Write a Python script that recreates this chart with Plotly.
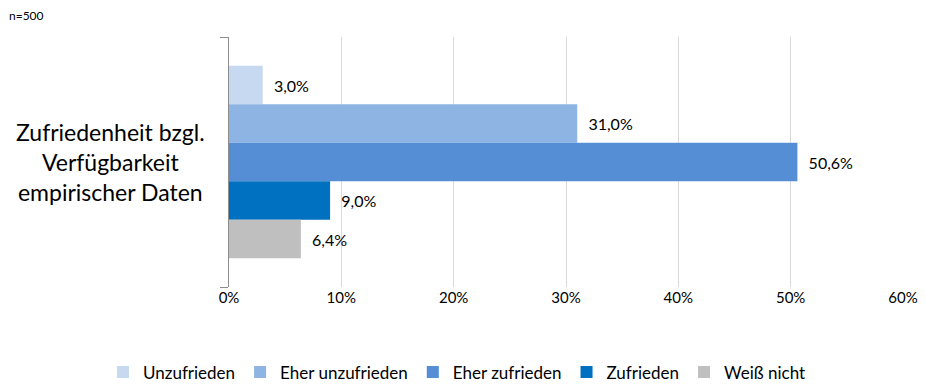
import plotly.graph_objects as go

category = ["Zufriedenheit bzgl.<br>Verfügbarkeit<br>empirischer Daten"]
series = ["Unzufrieden", "Eher unzufrieden", "Eher zufrieden", "Zufrieden", "Weiß nicht"]
values = [3.0, 31.0, 50.6, 9.0, 6.4]
colors = ["#C6D9F1", "#8EB4E3", "#558ED5", "#0070C0", "#BFBFBF"]
x_ticks = [0, 10, 20, 30, 40, 50, 60]
x_tick_labels = [f"{t}%" for t in x_ticks]

FONT = "Lato, Open Sans, sans-serif"

fig = go.Figure()
for name, v, c in zip(series, values, colors):
    fig.add_trace(go.Bar(
        name=name, y=category, x=[v], orientation="h",
        marker=dict(color=c, line=dict(width=0)),
        text=[v], texttemplate="  %{x:.1f}%", textposition="outside",
        textfont=dict(size=16, color="#000000", family=FONT),
        cliponaxis=False,
    ))

fig.update_layout(
    width=926, height=392,
    margin=dict(l=229, r=23, t=37, b=105, autoexpand=False),
    paper_bgcolor="white", plot_bgcolor="white",
    barmode="group", bargap=0.23, bargroupgap=0,
    separators=",.",
    font=dict(family=FONT, color="#000000"),
    showlegend=True,
    legend=dict(orientation="h", x=(103 - 229) / 674, xanchor="left", y=-0.27, yanchor="top",
                yref="paper", font=dict(size=17), traceorder="normal",
                itemwidth=30, tracegroupgap=0),
    xaxis=dict(range=[0, 60], tickmode="array", tickvals=x_ticks, ticktext=x_tick_labels,
               showgrid=True, gridcolor="#D9D9D9", gridwidth=1, automargin=False,
               zeroline=False, showline=False, tickfont=dict(size=15),
               ticks=""),
    yaxis=dict(autorange="reversed", showline=True, linecolor="#8C8C8C", linewidth=1,
               ticks="outside", tickson="boundaries", ticklen=8, tickcolor="#8C8C8C",
               showticklabels=False, showgrid=False, automargin=False),
)

fig.add_annotation(text=category[0], xref="paper", yref="paper",
                   x=-(229 - 110) / 674, y=0.5, xanchor="center", yanchor="middle",
                   align="center", showarrow=False, font=dict(size=23, family=FONT))

fig.add_annotation(text="n=500", xref="paper", yref="paper", x=-229 / 674, y=1.0,
                   xanchor="left", yanchor="middle", xshift=7, yshift=22, showarrow=False,
                   font=dict(size=12, family=FONT))

fig.write_html("out.html", config={"displayModeBar": False},
               post_script="document.body.style.margin='0';")
